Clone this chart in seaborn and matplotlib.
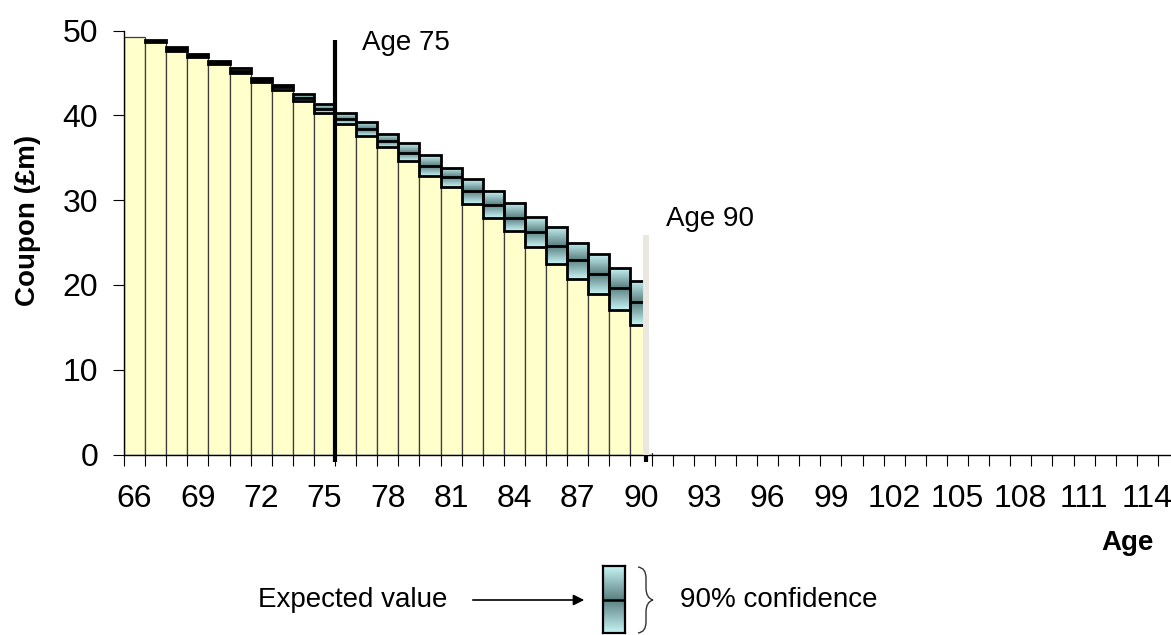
import numpy as np
import pandas as pd
import matplotlib
matplotlib.use("Agg")
import matplotlib.pyplot as plt
import seaborn as sns
from matplotlib.colors import LinearSegmentedColormap
from matplotlib.patches import Rectangle, PathPatch
from matplotlib.path import Path

# ---------------- data ----------------
axis_ages = list(range(66, 116))          # categories on the x axis
ages = list(range(66, 91))                # ages with bars
lower = [49.3, 48.65, 47.65, 46.95, 46.1, 45.0, 43.9, 42.95, 41.7, 40.3,
         39.0, 37.6, 36.25, 34.6, 32.9, 31.55, 29.55, 27.9, 26.35, 24.45,
         22.5, 20.7, 18.95, 17.0, 15.3]
upper = [49.3, 48.85, 48.05, 47.25, 46.4, 45.6, 44.45, 43.6, 42.55, 41.35,
         40.25, 39.2, 37.8, 36.7, 35.3, 33.85, 32.45, 31.1, 29.65, 28.05,
         26.8, 25.0, 23.65, 21.95, 20.5]
expected = [49.3, 48.75, 47.85, 47.1, 46.25, 45.3, 44.2, 43.3, 42.1, 40.8,
            39.6, 38.35, 36.95, 35.6, 34.05, 32.75, 31.05, 29.45, 27.85, 26.3,
            24.55, 22.95, 21.3, 19.6, 18.0]
x_tick_ages = list(range(66, 115, 3))
y_ticks = [0, 10, 20, 30, 40, 50]
marker_ages = [75, 90]
marker_labels = ["Age 75", "Age 90"]

# ---------------- style ----------------
sns.set_theme(style="white")
plt.rcParams["font.family"] = ["Liberation Sans", "DejaVu Sans"]
plt.rcParams["text.color"] = "black"
plt.rcParams["xtick.color"] = "black"
plt.rcParams["ytick.color"] = "black"

W, H = 1171, 635
fig = plt.figure(figsize=(W / 100, H / 100), dpi=100)
fig.patch.set_facecolor("white")


def fx(px):
    return px / W


def fy(py):
    return 1 - py / H


ax = fig.add_axes([fx(124), fy(454.5), 1055 / W, 423.8 / H])

df = pd.DataFrame({"age": ages, "lower": lower})
sns.barplot(data=df, x="age", y="lower", order=axis_ages, color="#ffffcc",
            saturation=1, width=1.0, edgecolor="#3c3c3c", linewidth=0.9,
            errorbar=None, ax=ax, zorder=2)

cmap = LinearSegmentedColormap.from_list("band", ["#c6f3f5", "#5b7f80"])
grad = np.linspace(0, 1, 64).reshape(-1, 1)
for age, lo, hi, ev in zip(ages, lower, upper, expected):
    if hi - lo <= 0:
        continue
    x = axis_ages.index(age)
    ax.imshow(grad, extent=(x - 0.5, x + 0.5, lo, ev), origin="lower",
              cmap=cmap, aspect="auto", zorder=3, interpolation="bilinear")
    ax.imshow(grad[::-1], extent=(x - 0.5, x + 0.5, ev, hi), origin="lower",
              cmap=cmap, aspect="auto", zorder=3, interpolation="bilinear")
    ax.add_patch(Rectangle((x - 0.5, lo), 1, hi - lo, fill=False,
                           edgecolor="black", lw=2.0, zorder=4))
    ax.plot([x - 0.5, x + 0.5], [ev, ev], color="black", lw=2.0, zorder=4,
            solid_capstyle="butt")

ax.set_xlim(-0.5, len(axis_ages) - 0.5)
ax.set_ylim(0, 50)

# marker lines
x75 = axis_ages.index(marker_ages[0]) + 0.5
ax.plot([x75, x75], [-0.89, 48.9], color="black", lw=3, clip_on=False,
        zorder=7, solid_capstyle="butt")
x90 = axis_ages.index(marker_ages[1]) + 0.24
ax.add_patch(Rectangle((x90, 0.12), 0.42, 27, facecolor="white",
                       edgecolor="none", zorder=5))
ax.plot([x90, x90], [0, 25.9], color="#e9e7df", lw=4.3, zorder=6,
        solid_capstyle="butt")
ax.plot([x90, x90], [-0.89, 0], color="black", lw=3, clip_on=False,
        zorder=7, solid_capstyle="butt")

# axes styling
for s in ["top", "right"]:
    ax.spines[s].set_visible(False)
for s in ["left", "bottom"]:
    ax.spines[s].set_color("black")
    ax.spines[s].set_linewidth(1.0)
ax.set_xlabel("")
ax.set_ylabel("")
ax.set_xticks([axis_ages.index(a) for a in x_tick_ages])
ax.set_xticklabels([str(a) for a in x_tick_ages])
ax.set_xticks(np.arange(-0.5, len(axis_ages), 1), minor=True)
ax.tick_params(axis="x", which="major", length=0, pad=21.5, labelsize=23,
               bottom=True)
ax.tick_params(axis="x", which="minor", length=8, width=0.8, color="black",
               direction="out", bottom=True)
ax.set_yticks(y_ticks)
ax.tick_params(axis="y", which="major", length=8, width=0.8, color="black",
               direction="out", pad=10.5, labelsize=23, left=True)

# texts
fig.text(fx(28), fy(220), "Coupon (£m)", rotation=90, ha="center",
         va="center", fontsize=20, fontweight="bold")
fig.text(fx(1127), fy(543), "Age", ha="center", va="center", fontsize=20,
         fontweight="bold")
fig.text(fx(362), fy(43), marker_labels[0], ha="left", va="center",
         fontsize=20)
fig.text(fx(666), fy(219), marker_labels[1], ha="left", va="center",
         fontsize=20)

# legend
fig.text(fx(258), fy(600), "Expected value", ha="left", va="center",
         fontsize=20)
fig.text(fx(680), fy(600), "90% confidence", ha="left", va="center",
         fontsize=20)
fig.add_artist(matplotlib.patches.FancyArrowPatch(
    (fx(470), fy(600)), (fx(587), fy(600)), transform=fig.transFigure,
    arrowstyle="-|>", mutation_scale=16, color="black", lw=1.2))

lax = fig.add_axes([fx(603), fy(633), 22 / W, 67 / H])
lax.imshow(grad, extent=(0, 1, 0, 1), origin="lower", cmap=cmap,
           aspect="auto", interpolation="bilinear")
lax.imshow(grad[::-1], extent=(0, 1, 1, 2), origin="lower", cmap=cmap,
           aspect="auto", interpolation="bilinear")
lax.set_xlim(0, 1)
lax.set_ylim(0, 2)
lax.plot([0, 1], [1, 1], color="black", lw=1.8)
lax.set_xticks([])
lax.set_yticks([])
for s in lax.spines.values():
    s.set_color("black")
    s.set_linewidth(1.6)
    s.set_visible(True)

pts = [(638, 567), (646, 568), (646, 578), (646, 588), (646, 598), (653, 600),
       (646, 602), (646, 612), (646, 622), (646, 632), (638, 633)]
codes = [Path.MOVETO, Path.CURVE3, Path.CURVE3, Path.LINETO, Path.CURVE3,
         Path.CURVE3, Path.CURVE3, Path.CURVE3, Path.LINETO, Path.CURVE3,
         Path.CURVE3]
brace = Path([(fx(a), fy(b)) for a, b in pts], codes)
fig.add_artist(PathPatch(brace, transform=fig.transFigure, fill=False,
                         edgecolor="#333333", lw=1.0))

fig.savefig("out.png", dpi=100)
